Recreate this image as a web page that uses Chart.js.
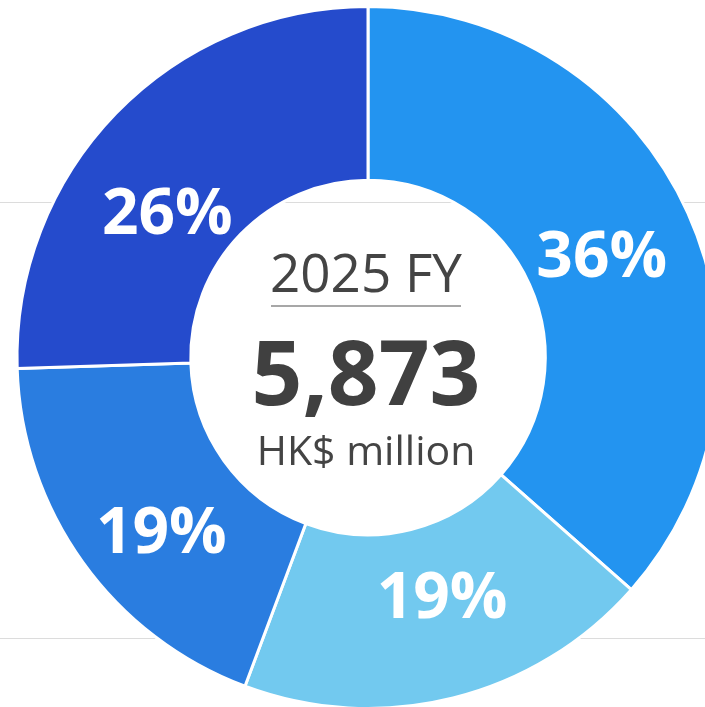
<!DOCTYPE html>
<html>
<head>
<meta charset="utf-8">
<script src="https://cdn.jsdelivr.net/npm/chart.js@4"></script>
<style>
  html, body { margin: 0; padding: 0; background: #fff; overflow: hidden; }
  #wrap { position: relative; width: 705px; height: 707px; overflow: hidden; }
  .rule { position: absolute; left: 0; width: 705px; height: 1px; background: #dcdcdc; }
  canvas { position: absolute; left: 0; top: 0; }
</style>
</head>
<body>
<div id="wrap">
  <div class="rule" style="top:202px"></div>
  <div class="rule" style="top:638px"></div>
  <canvas id="donut" width="736" height="715"></canvas>
</div>
<script>
// clockwise from 12 o'clock
const segments = ['Segment A', 'Segment B', 'Segment C', 'Segment D'];
// arc sizes as drawn (read from the slice edges)
const arcShares = [36.5, 19.2, 18.8, 25.5];
// rounded % printed on the slices
const shareLabels = [36, 19, 19, 26];
const colours = ['#2394F0', '#72C9EF', '#2A7DE0', '#254BCC'];
// small hand offsets of the printed % (px)
const labelNudge = [[-7, 7], [10, -17], [8, 20], [-11, 39]];

const yearLabel = '2025 FY';
const totalLabel = '5,873';
const unitLabel = 'HK$ million';

const FONT = '"Open Sans", "DejaVu Sans", sans-serif';

// white % labels in each slice
const sliceLabels = {
  id: 'sliceLabels',
  afterDatasetsDraw(chart) {
    const ctx = chart.ctx;
    const meta = chart.getDatasetMeta(0);
    ctx.save();
    ctx.fillStyle = '#ffffff';
    ctx.font = 'bold 64px ' + FONT;
    ctx.textAlign = 'center';
    ctx.textBaseline = 'middle';
    meta.data.forEach((arc, i) => {
      const p = arc.tooltipPosition();
      ctx.fillText(shareLabels[i] + '%', p.x + labelNudge[i][0], p.y + labelNudge[i][1] + 3);
    });
    ctx.restore();
  }
};

// year / total / unit in the hole
const centreText = {
  id: 'centreText',
  afterDraw(chart) {
    const ctx = chart.ctx;
    const arc = chart.getDatasetMeta(0).data[0];
    const cx = arc.x - 2, cy = arc.y;
    ctx.save();
    ctx.textAlign = 'center';
    ctx.textBaseline = 'alphabetic';
    ctx.fillStyle = '#444444';
    ctx.font = '400 53px ' + FONT;
    ctx.fillText(yearLabel, cx, cy - 65.5);
    ctx.strokeStyle = '#8a8a8a';
    ctx.lineWidth = 1.5;
    ctx.beginPath();
    ctx.moveTo(cx - 95, cy - 51.5);
    ctx.lineTo(cx + 95, cy - 51.5);
    ctx.stroke();
    ctx.fillStyle = '#404040';
    ctx.font = 'bold 89px ' + FONT;
    ctx.fillText(totalLabel, cx, cy + 47.5);
    ctx.fillStyle = '#444444';
    ctx.font = '400 41px ' + FONT;
    ctx.fillText(unitLabel, cx, cy + 107.5);
    ctx.restore();
  }
};

new Chart(document.getElementById('donut'), {
  type: 'doughnut',
  data: {
    labels: segments,
    datasets: [{
      data: arcShares,
      backgroundColor: colours,
      borderColor: '#ffffff',
      borderWidth: 3
    }]
  },
  options: {
    responsive: false,
    animation: false,
    cutout: '50.5%',
    layout: { padding: 5 },
    plugins: {
      legend: { display: false },
      tooltip: { enabled: false }
    }
  },
  plugins: [sliceLabels, centreText]
});
</script>
</body>
</html>
